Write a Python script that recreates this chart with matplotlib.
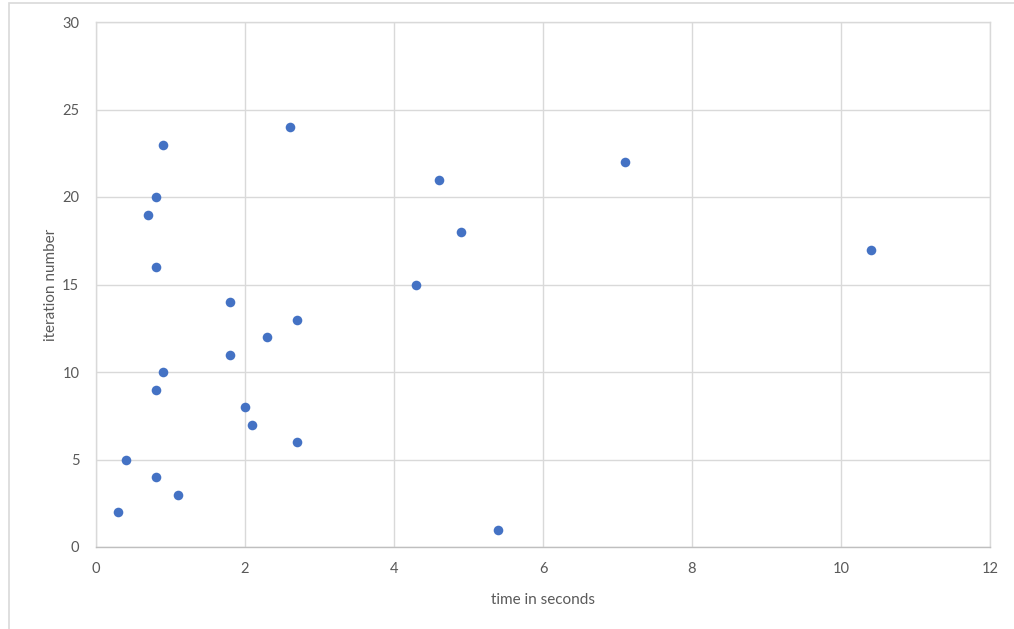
import matplotlib.pyplot as plt
from matplotlib.patches import Rectangle

# iteration number vs elapsed time (seconds)
times = [5.4, 0.3, 1.1, 0.8, 0.4, 2.7, 2.1, 2.0, 0.8, 0.9, 1.8, 2.3,
         2.7, 1.8, 4.3, 0.8, 10.4, 4.9, 0.7, 0.8, 4.6, 7.1, 0.9, 2.6]
iterations = list(range(1, 25))

x_ticks = [0, 2, 4, 6, 8, 10, 12]
y_ticks = [0, 5, 10, 15, 20, 25, 30]

text_color = '#595959'
grid_color = '#d9d9d9'

plt.rcParams['font.family'] = ['Lato', 'DejaVu Sans']

fig = plt.figure(figsize=(10.14, 6.29), dpi=100)
ax = fig.add_axes([96 / 1014, 1 - 547 / 629, (990 - 96) / 1014, (547 - 22) / 629])

# outer chart frame
fig.patches.append(Rectangle((9 / 1014, -0.1), 1.2, 1 - 3 / 629 + 0.1,
                             transform=fig.transFigure, fill=False,
                             edgecolor=grid_color, linewidth=1.2))

ax.scatter(times, iterations, s=48, color='#4472c4', zorder=3, linewidths=0)

ax.set_xlim(0, 12)
ax.set_ylim(0, 30)
ax.set_xticks(x_ticks)
ax.set_yticks(y_ticks)
ax.grid(True, color=grid_color, linewidth=1)
ax.set_axisbelow(True)
for spine in ax.spines.values():
    spine.set_color(grid_color)
    spine.set_linewidth(1)
ax.spines['bottom'].set_color('#bfbfbf')
ax.tick_params(axis='x', length=0, labelsize=10.5, colors=text_color, pad=11)
ax.tick_params(axis='y', length=0, labelsize=10.5, colors=text_color, pad=12)

ax.set_xlabel('time in seconds', fontsize=11, color=text_color, labelpad=12)
ax.set_ylabel('iteration number', fontsize=11, color=text_color, labelpad=3)

fig.savefig('out.png', dpi=100)
